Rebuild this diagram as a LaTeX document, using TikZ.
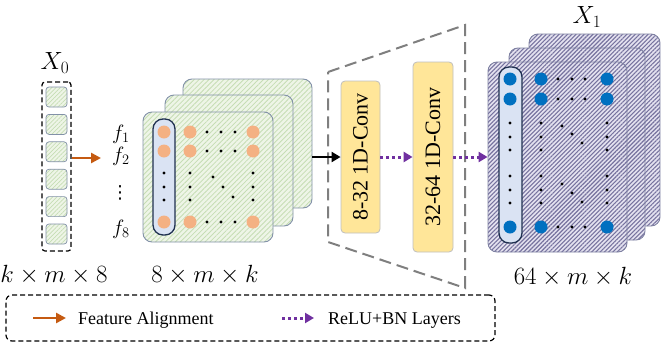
\documentclass[tikz,border=0pt]{standalone}
\usepackage{fontspec}
\setmainfont{Liberation Serif}
\newfontfamily\djv{DejaVu Sans}
\usetikzlibrary{patterns.meta,arrows.meta}
\definecolor{gfill}{HTML}{EEF5E7}
\definecolor{ghatch}{HTML}{C6DDB4}
\definecolor{gborder}{HTML}{8291A8}
\definecolor{pfill}{HTML}{E4E2F0}
\definecolor{phatch}{HTML}{77739F}
\definecolor{pborder}{HTML}{7C7FA0}
\definecolor{colfill}{HTML}{DAE3F3}
\definecolor{coldraw}{HTML}{1F3050}
\definecolor{orc}{HTML}{F4B183}
\definecolor{bluc}{HTML}{0070C0}
\definecolor{convfill}{HTML}{FFE699}
\definecolor{convdraw}{HTML}{BFBFBF}
\definecolor{oarr}{HTML}{C55A11}
\definecolor{parr}{HTML}{7030A0}
\definecolor{trap}{HTML}{7F7F7F}
\tikzset{
  gpanel/.style={draw=gborder, line width=0.9pt, rounded corners=9pt,
    preaction={fill=gfill},
    pattern={Lines[angle=45,distance=3.5pt,line width=0.8pt]}, pattern color=ghatch},
  ppanel/.style={draw=pborder, line width=0.9pt, rounded corners=9pt,
    preaction={fill=pfill},
    pattern={Lines[angle=45,distance=3pt,line width=1.1pt]}, pattern color=phatch},
  gsq/.style={draw=gborder, line width=0.7pt, rounded corners=3pt,
    preaction={fill=gfill},
    pattern={Lines[angle=45,distance=3pt,line width=0.7pt]}, pattern color=ghatch,
    minimum width=21pt, minimum height=20pt, inner sep=0pt},
  colbox/.style={draw=coldraw, fill=colfill, line width=1.3pt, rounded corners=10pt, inner sep=0pt},
  convbox/.style={draw=convdraw, fill=convfill, line width=0.8pt, rounded corners=4pt, inner sep=0pt},
  convtext/.style={rotate=90, font=\fontsize{22}{26}\selectfont, inner sep=0pt},
  mlabel/.style={font=\fontsize{24.5}{28}\selectfont, inner sep=0pt},
  flabel/.style={font=\fontsize{21.5}{24}\selectfont, inner sep=0pt},
  legtext/.style={font=\fontsize{18}{22}\selectfont, inner sep=0pt, anchor=base west},
  oarrow/.style={draw=oarr, line width=2.5pt, -{Triangle[length=10pt,width=10pt]}},
  barrow/.style={draw=black, line width=2pt, -{Triangle[length=9pt,width=10pt]}},
  parrow/.style={draw=parr, line width=3pt, dash pattern=on 3pt off 3pt, -{Triangle[length=9pt,width=10pt]}},
  dashbox/.style={draw=black, line width=1.2pt, dash pattern=on 5pt off 3pt, inner sep=0pt},
}
\begin{document}
\begin{tikzpicture}[x=1pt,y=-1pt]
\useasboundingbox (0,0) rectangle (661,343);

% ---------- X0 column ----------
\node[mlabel] (x0lab) at (55,63) {$X_0$};
\node[dashbox, rounded corners=3pt, minimum width=29pt, minimum height=169pt] (x0) at (56.5,166.5) {};
\foreach \i in {0,...,5} {
  \node[gsq] (sq\i) at (56.5,{97+27.4*\i}) {};
}
\node[mlabel] (dim0) at (54,275) {$k\times m\times 8$};

% orange arrow
\coordinate (fa) at (101,158);
\draw[oarrow] (fa -| x0.east) -- (fa);

% f labels
\node[flabel] (f1) at (121,134) {$f_1$};
\node[flabel] (f2) at (121,156) {$f_2$};
\node[font=\djv\fontsize{18}{20}\selectfont, inner sep=0pt] (fd) at (120,193) {⋮};
\node[flabel] (f8) at (121,229) {$f_8$};

% ---------- green panels ----------
\node[gpanel, minimum width=129pt, minimum height=129pt] (g3) at (247.5,143.5) {};
\node[gpanel, minimum width=128pt, minimum height=131pt] (g2) at (229,160.5) {};
\node[gpanel, minimum width=130pt, minimum height=130pt] (g1) at (208,177) {};
\node[colbox, minimum width=22pt, minimum height=116pt] (gcol) at (164,177) {};
\foreach \x in {164,190,253} {
  \foreach \y in {132,151,222} { \fill[orc] (\x,\y) circle (6.5pt); }
  \foreach \y in {173,187,200} { \fill[black] (\x,\y) circle (1.7pt); }
}
\foreach \y in {132,151,222} {
  \foreach \x in {207,221,235} { \fill[black] (\x,\y) circle (1.7pt); }
}
\foreach \x/\y in {213/177,223/187,233/197} { \fill[black] (\x,\y) circle (1.7pt); }
\node[mlabel] (dim1) at (205,275) {$8\times m\times k$};

% ---------- trapezoid & convs ----------
\draw[trap, line width=2pt, dash pattern=on 12pt off 6pt]
  (328,72) -- (465,25) -- (465,288) -- (328,242) -- cycle;
\node[convbox, minimum width=39pt, minimum height=152pt] (c1) at (360.5,157) {};
\node[convtext] (c1t) at (c1) {8-32 1D-Conv};
\node[convbox, minimum width=40pt, minimum height=190pt] (c2) at (433,157) {};
\node[convtext] (c2t) at (c2) {32-64 1D-Conv};

\draw[barrow] (c1.west -| g3.east) -- (c1.west);

% ---------- purple panels ----------
\node[mlabel] (x1lab) at (587,17) {$X_1$};
\node[ppanel, minimum width=131pt, minimum height=192pt] (p3) at (594.5,130) {};
\node[ppanel, minimum width=136pt, minimum height=192pt] (p2) at (577,144) {};
\node[ppanel, minimum width=139pt, minimum height=190pt] (p1) at (557.5,157) {};
\node[colbox, minimum width=23pt, minimum height=176pt] (pcol) at (510.5,155) {};
\foreach \x in {510,541,607} {
  \foreach \y in {79,99,227} { \fill[bluc] (\x,\y) circle (6.5pt); }
  \foreach \y in {123,137,150,176,190,203} { \fill[black] (\x,\y) circle (1.7pt); }
}
\foreach \y in {79,99,227} {
  \foreach \x in {558,572,585} { \fill[black] (\x,\y) circle (1.7pt); }
}
\foreach \x/\y in {562/126,572/134,582/143,562/184,572/193,582/202} { \fill[black] (\x,\y) circle (1.7pt); }
\node[mlabel] (dim2) at (573,277) {$64\times m\times k$};

\draw[parrow] (c1.east) -- (c2.west);
\draw[parrow] (c2.east) -- (c2.east -| p1.west);

% ---------- legend ----------
\node[dashbox, rounded corners=6pt, minimum width=489pt, minimum height=46pt] (leg) at (250.5,318) {};
\coordinate (l1a) at (33,318);
\coordinate (l1b) at (66,318);
\draw[oarrow] (l1a) -- (l1b);
\node[legtext] (l1t) at (78,324) {Feature Alignment};
\coordinate (l2a) at (282,318);
\coordinate (l2b) at (314,318);
\draw[parrow] (l2a) -- (l2b);
\node[legtext] (l2t) at (328,324) {ReLU+BN Layers};
\end{tikzpicture}
\end{document}
